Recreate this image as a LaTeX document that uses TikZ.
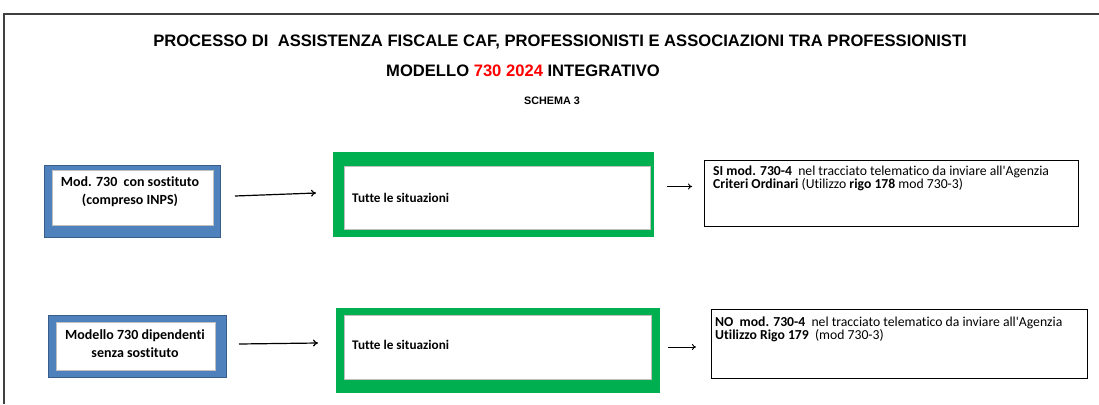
\documentclass[tikz,border=0pt]{standalone}
\usepackage{fontspec}
\setmainfont[Ligatures={TeX,NoCommon}]{Carlito}
\newfontfamily\arialfont{Liberation Sans}
\usetikzlibrary{arrows.meta}
\definecolor{bluefill}{HTML}{4F81BD}
\definecolor{blueedge}{HTML}{385D8A}
\definecolor{greenfill}{HTML}{00B050}
\definecolor{innergray}{HTML}{BFBFBF}
\definecolor{framegray}{HTML}{404040}
\definecolor{titlered}{HTML}{FF0000}
\tikzset{
  outerblue/.style={draw=blueedge, line width=0.6pt, fill=bluefill, inner sep=0pt, outer sep=0pt},
  outergreen/.style={fill=greenfill, inner sep=0pt, outer sep=0pt},
  innerwhite/.style={draw=innergray, line width=0.8pt, fill=white, inner sep=0pt, outer sep=0pt},
  resultbox/.style={draw=black, line width=0.9pt, fill=white, inner sep=0pt, outer sep=0pt},
  titletext/.style={font=\arialfont\bfseries\fontsize{16.6}{20}\selectfont, inner sep=0pt},
  smalltitle/.style={font=\arialfont\bfseries\fontsize{10.8}{13}\selectfont, inner sep=0pt},
  boxtext/.style={font=\bfseries\fontsize{14}{18}\selectfont, align=center, inner sep=0pt},
  sittext/.style={font=\bfseries\fontsize{13.2}{16}\selectfont, anchor=west, inner sep=0pt},
  restext/.style={font=\fontsize{13.7}{12}\selectfont, align=left, anchor=north west, inner sep=0pt},
  longarrow/.style={draw=black, line width=1.2pt, -{To[length=5pt,width=7pt]}},
  shortarrow/.style={draw=black, line width=0.9pt, -{To[length=4pt,width=6pt]}},
}
\begin{document}
\begin{tikzpicture}[x=1pt,y=-1pt]
\useasboundingbox (0,0) rectangle (1099,404);
% frame
\draw[framegray, line width=1.5pt] (4,404) -- (4,14) -- (1100,14);
% titles
\node[titletext] (t1) at (560,42) {PROCESSO DI\ \ ASSISTENZA FISCALE CAF, PROFESSIONISTI E ASSOCIAZIONI TRA PROFESSIONISTI};
\node[titletext] (t2) at (523,71) {MODELLO \textcolor{titlered}{730 2024} INTEGRATIVO};
\node[smalltitle] (t3) at (552,101) {SCHEMA 3};

% row 1
\node[outerblue, minimum width=176pt, minimum height=72pt] (b1) at (132,201) {};
\node[innerwhite, minimum width=161pt, minimum height=55pt] (b1i) at (132.5,197.5) {};
\node[boxtext] (b1t) at (130,192) {Mod. 730\ \ con sostituto\\(compreso INPS)};

\node[outergreen, minimum width=321pt, minimum height=85pt] (g1) at (493.5,194.5) {};
\node[innerwhite, minimum width=306pt, minimum height=63pt] (g1i) at (497,197.5) {};
\node[sittext] (g1t) at (352,197.5) {Tutte le situazioni};

\node[resultbox, minimum width=374pt, minimum height=66pt] (r1) at (891,193) {};
\node[restext] (r1t) at (713,165.5) {\textbf{SI mod. 730-4}\ \ nel tracciato telematico da inviare all\textquotesingle Agenzia\\\textbf{Criteri Ordinari} (Utilizzo \textbf{rigo 178} mod 730-3)};

\coordinate (a1s) at (235,196);
\coordinate (a1e) at (316,193);
\coordinate (c1s) at (667,186.5);
\coordinate (c1e) at (692,186.5);
\draw[longarrow] (a1s) -- (a1e);
\draw[shortarrow] (c1s) -- (c1e);

% row 2
\node[outerblue, minimum width=178pt, minimum height=62pt] (b2) at (137,346) {};
\node[innerwhite, minimum width=159pt, minimum height=48pt] (b2i) at (135.5,346) {};
\node[boxtext] (b2t) at (135,344) {Modello 730 dipendenti\\senza sostituto};

\node[outergreen, minimum width=324pt, minimum height=85pt] (g2) at (498,350.5) {};
\node[innerwhite, minimum width=307pt, minimum height=64pt] (g2i) at (497.5,347) {};
\node[sittext] (g2t) at (352,345) {Tutte le situazioni};

\node[resultbox, minimum width=376pt, minimum height=69pt] (r2) at (899,343.5) {};
\node[restext] (r2t) at (715,316.5) {\textbf{NO\ \ mod. 730-4}\ \ nel tracciato telematico da inviare all\textquotesingle Agenzia\\\textbf{Utilizzo Rigo 179}\ \ (mod 730-3)};

\coordinate (a2s) at (239,344);
\coordinate (a2e) at (318,343);
\coordinate (c2s) at (668,347);
\coordinate (c2e) at (696,347);
\draw[longarrow] (a2s) -- (a2e);
\draw[shortarrow] (c2s) -- (c2e);
\end{tikzpicture}
\end{document}
